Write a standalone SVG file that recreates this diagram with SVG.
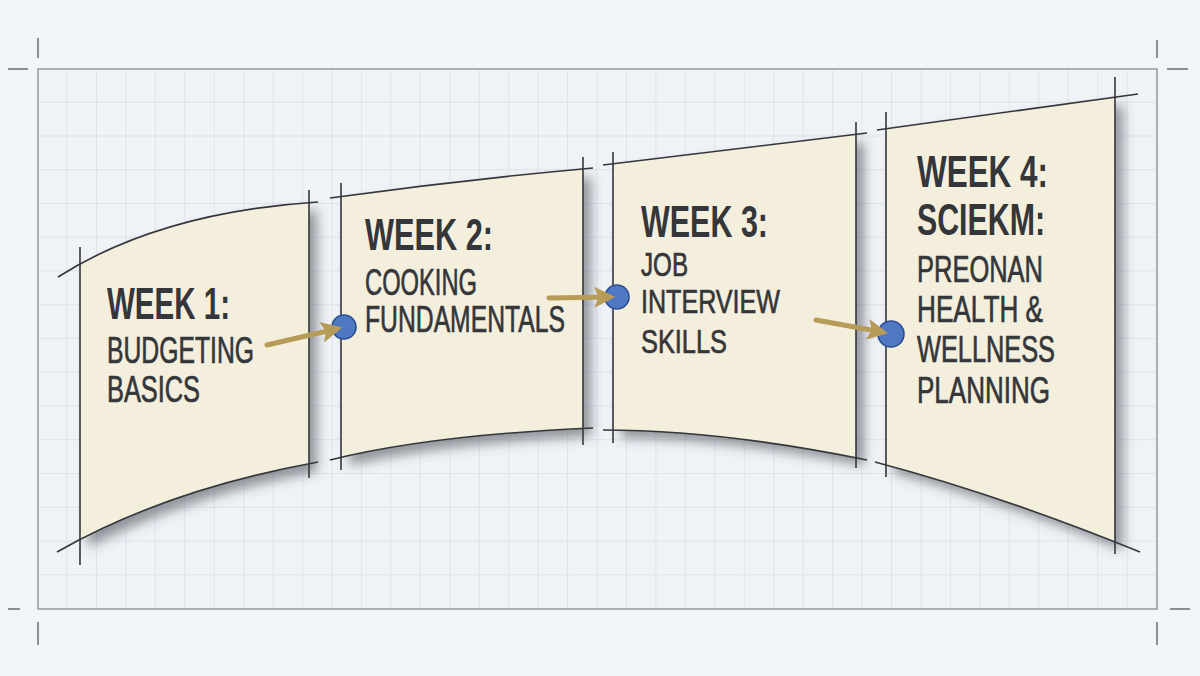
<svg xmlns="http://www.w3.org/2000/svg" width="1200" height="676" viewBox="0 0 1200 676">
<defs>
<pattern id="grid" x="38" y="69" width="29.45" height="33.75" patternUnits="userSpaceOnUse">
<path d="M29.45,0 V33.75 M0,33.75 H29.45" fill="none" stroke="#d0d5dd" stroke-width="1"/>
</pattern>
<filter id="sh" x="-10%" y="-10%" width="130%" height="130%">
<feDropShadow dx="8" dy="8" stdDeviation="6" flood-color="#44474f" flood-opacity="0.55"/>
</filter>
<clipPath id="c1"><rect x="80" y="0" width="229" height="676"/></clipPath>
<clipPath id="c2"><rect x="341" y="0" width="242" height="676"/></clipPath>
<clipPath id="c3"><rect x="613" y="0" width="243" height="676"/></clipPath>
<clipPath id="c4"><rect x="886" y="0" width="229" height="676"/></clipPath>
<marker id="ah" viewBox="0 0 10 10" refX="7" refY="5" markerWidth="4.2" markerHeight="4.2" orient="auto" markerUnits="strokeWidth">
<path d="M0,0 L10,5 L0,10 L2,5 Z" fill="#b79c58"/>
</marker>
<style>
.ln{fill:none;stroke:#33363b;stroke-width:1.6}
.paper{fill:#f4efdd}
.t{font-family:"Liberation Sans",Arial,sans-serif;fill:#34363a}
.h{font-size:44px;font-weight:700}
.s{font-size:37px;font-weight:400;stroke:#34363a;stroke-width:0.7}
.s3{font-size:34px}
.arr{fill:none;stroke:#b79c58;stroke-width:5;stroke-linecap:round}
.dot{fill:#4f78c2;stroke:#2c4d94;stroke-width:1.6}
.tick{stroke:#6a6e75;stroke-width:1.5}
</style>
</defs>
<rect width="1200" height="676" fill="#f1f4f9"/>
<rect x="38" y="69" width="1119" height="540" fill="#eff2f7"/>
<rect x="38" y="69" width="1119" height="540" fill="url(#grid)"/>
<rect x="38" y="69" width="1119" height="540" fill="none" stroke="#9b9fa6" stroke-width="1.6"/>
<g id="corner-ticks">
<line class="tick" x1="38" y1="38" x2="38" y2="58"/>
<line class="tick" x1="8" y1="69" x2="28" y2="69"/>
<line class="tick" x1="1157" y1="40" x2="1157" y2="58"/>
<line class="tick" x1="1167" y1="69" x2="1188" y2="69"/>
<line class="tick" x1="8" y1="609" x2="20" y2="609"/>
<line class="tick" x1="1170" y1="609" x2="1190" y2="609"/>
<line class="tick" x1="38" y1="622" x2="38" y2="645"/>
<line class="tick" x1="1157" y1="622" x2="1157" y2="645"/>
</g>

<g id="week1">
<g filter="url(#sh)"><path class="paper" clip-path="url(#c1)" d="M58,277 Q160,212 318,202 L318,462 Q165,490 57,552 Z"/></g>
<path class="ln" d="M58,277 Q160,212 318,202"/>
<path class="ln" d="M57,552 Q165,490 318,462"/>
<line class="ln" x1="80" y1="247" x2="80" y2="565"/>
<line class="ln" x1="309" y1="190" x2="309" y2="478"/>
<text class="t h" x="107" y="319" textLength="123" lengthAdjust="spacingAndGlyphs">WEEK 1:</text>
<text class="t s" x="107" y="363" textLength="147" lengthAdjust="spacingAndGlyphs">BUDGETING</text>
<text class="t s" x="107" y="402" textLength="93" lengthAdjust="spacingAndGlyphs">BASICS</text>
</g>

<g id="week2">
<g filter="url(#sh)"><path class="paper" clip-path="url(#c2)" d="M330,198 Q460,180 593,168 L593,428 Q430,435 330,460 Z"/></g>
<path class="ln" d="M330,198 Q460,180 593,168"/>
<path class="ln" d="M330,460 Q430,435 593,428"/>
<line class="ln" x1="341" y1="183" x2="341" y2="470"/>
<line class="ln" x1="583" y1="157" x2="583" y2="445"/>
<text class="t h" x="365" y="250" textLength="128" lengthAdjust="spacingAndGlyphs">WEEK 2:</text>
<text class="t s" x="365" y="295" textLength="112" lengthAdjust="spacingAndGlyphs">COOKING</text>
<text class="t s" x="365" y="332" textLength="200" lengthAdjust="spacingAndGlyphs">FUNDAMENTALS</text>
</g>

<g id="week3">
<g filter="url(#sh)"><path class="paper" clip-path="url(#c3)" d="M603,165 L867,133 L867,460 Q720,430 603,430 Z"/></g>
<path class="ln" d="M603,165 L867,133"/>
<path class="ln" d="M603,430 Q720,430 867,460"/>
<line class="ln" x1="613" y1="152" x2="613" y2="443"/>
<line class="ln" x1="856" y1="122" x2="856" y2="468"/>
<text class="t h" x="641" y="237" textLength="127" lengthAdjust="spacingAndGlyphs">WEEK 3:</text>
<text class="t s s3" x="641" y="276" textLength="47" lengthAdjust="spacingAndGlyphs">JOB</text>
<text class="t s s3" x="641" y="313" textLength="139" lengthAdjust="spacingAndGlyphs">INTERVIEW</text>
<text class="t s s3" x="641" y="353" textLength="86" lengthAdjust="spacingAndGlyphs">SKILLS</text>
</g>

<g id="week4">
<g filter="url(#sh)"><path class="paper" clip-path="url(#c4)" d="M877,130 L1138,94 L1140,552 Q1000,495 875,462 Z"/></g>
<path class="ln" d="M877,130 L1138,94"/>
<path class="ln" d="M875,462 Q1000,495 1140,552"/>
<line class="ln" x1="886" y1="112" x2="886" y2="477"/>
<line class="ln" x1="1115" y1="77" x2="1115" y2="554"/>
<text class="t h" x="917" y="187" textLength="131" lengthAdjust="spacingAndGlyphs">WEEK 4:</text>
<text class="t h" x="917" y="235" textLength="128" lengthAdjust="spacingAndGlyphs">SCIEKM:</text>
<text class="t s" x="917" y="282" textLength="126" lengthAdjust="spacingAndGlyphs">PREONAN</text>
<text class="t s" x="917" y="322" textLength="126" lengthAdjust="spacingAndGlyphs">HEALTH &amp;</text>
<text class="t s" x="917" y="362" textLength="138" lengthAdjust="spacingAndGlyphs">WELLNESS</text>
<text class="t s" x="917" y="403" textLength="133" lengthAdjust="spacingAndGlyphs">PLANNING</text>
</g>

<g id="connectors">
<circle class="dot" cx="344" cy="327" r="12"/>
<line class="arr" x1="267" y1="345" x2="336" y2="329" marker-end="url(#ah)"/>
<circle class="dot" cx="617" cy="297" r="12"/>
<line class="arr" x1="549" y1="298" x2="609" y2="297" marker-end="url(#ah)"/>
<circle class="dot" cx="891" cy="334" r="13"/>
<line class="arr" x1="816" y1="320" x2="882" y2="332" marker-end="url(#ah)"/>
</g>
</svg>
